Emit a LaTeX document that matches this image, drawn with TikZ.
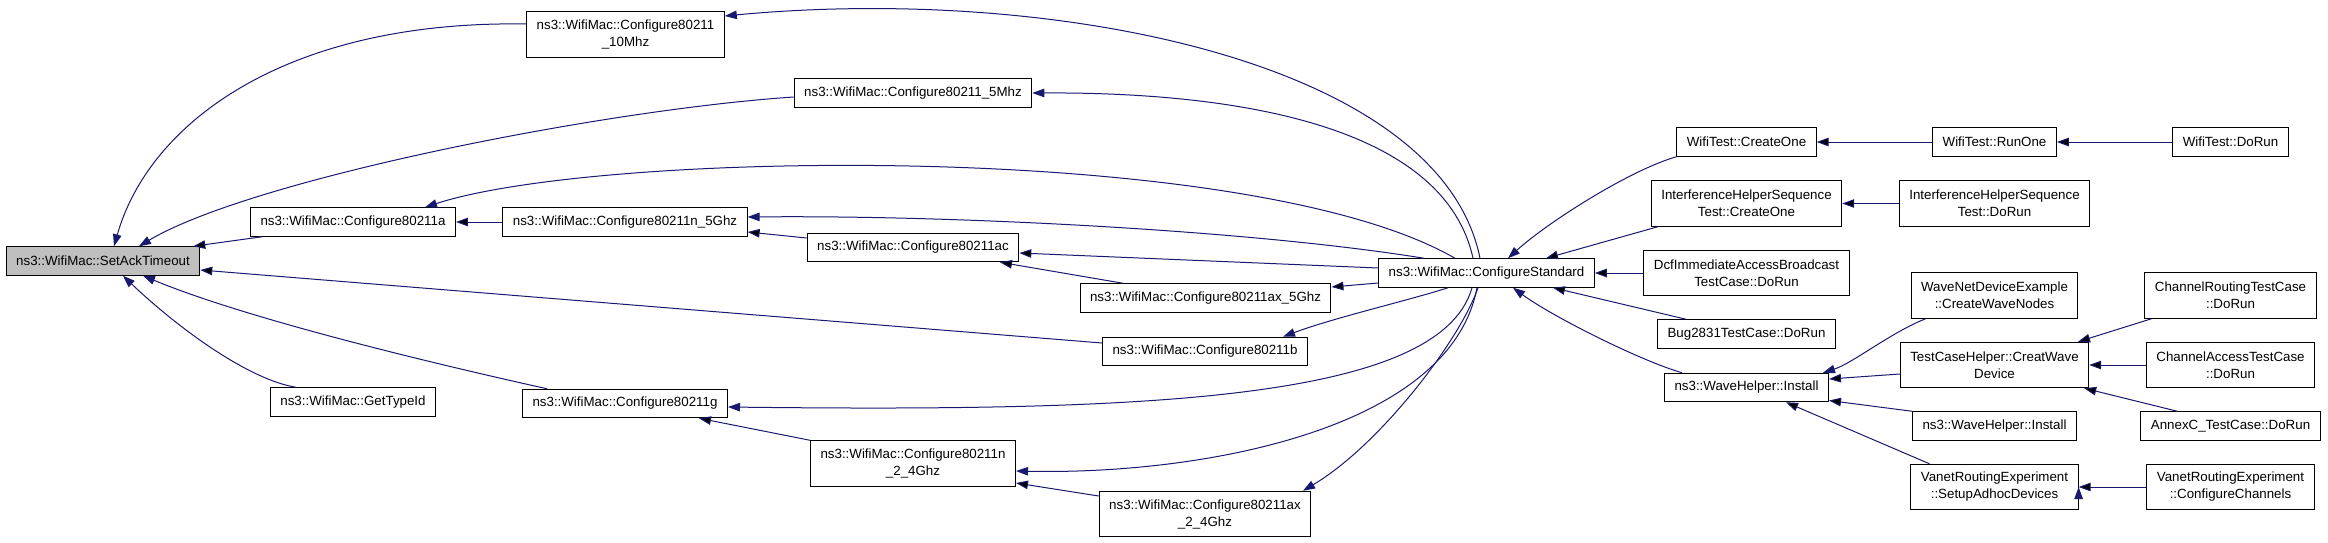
\documentclass[tikz,border=0pt]{standalone}
\usepackage{fontspec}
\setmainfont{Liberation Sans}
\usetikzlibrary{arrows.meta, positioning}

\definecolor{edgeblue}{HTML}{191970}
\definecolor{satgray}{HTML}{BFBFBF}

\begin{document}
\begin{tikzpicture}[x=1pt, y=-1pt,
    fn/.style={draw=black, line width=1pt, fill=white, inner xsep=10pt, inner ysep=0pt,
      minimum height=28.5pt, align=center, font=\fontsize{13.33pt}{17pt}\selectfont},
    fn2/.style={fn, minimum height=45.5pt},
    call/.style={{Triangle[length=12pt, width=8.5pt]}-, draw=edgeblue, line width=1pt}]
  \fill[white] (0,0) rectangle (2328,542);
  \useasboundingbox (0,0) rectangle (2328,542);

  % the function itself
  \node[fn, fill=satgray] (sat) at (103,261) {ns3::WifiMac::SetAckTimeout};

  % direct callers
  \node[fn2] (c10) at (625.5,34.5) {ns3::WifiMac::Configure80211\\\_10Mhz};
  \node[fn] (c5) at (913,93) {ns3::WifiMac::Configure80211\_5Mhz};
  \node[fn] (ca) at (353,222) {ns3::WifiMac::Configure80211a};
  \node[fn] (gti) at (353,402) {ns3::WifiMac::GetTypeId};
  \node[fn] (cn5) at (625,222) {ns3::WifiMac::Configure80211n\_5Ghz};
  \node[fn] (cg) at (625,403.5) {ns3::WifiMac::Configure80211g};
  \node[fn] (cac) at (913,247.5) {ns3::WifiMac::Configure80211ac};
  \node[fn2] (cn24) at (913,463.5) {ns3::WifiMac::Configure80211n\\\_2\_4Ghz};
  \node[fn] (cax5) at (1205.5,298) {ns3::WifiMac::Configure80211ax\_5Ghz};
  \node[fn] (cb) at (1205,351.5) {ns3::WifiMac::Configure80211b};
  \node[fn2] (cax24) at (1205,514) {ns3::WifiMac::Configure80211ax\\\_2\_4Ghz};
  \node[fn] (cstd) at (1486.5,273) {ns3::WifiMac::ConfigureStandard};

  % callers of ConfigureStandard
  \node[fn] (wtc) at (1746.5,142) {WifiTest::CreateOne};
  \node[fn2] (ihc) at (1746.5,203.5) {InterferenceHelperSequence\\Test::CreateOne};
  \node[fn2] (dcf) at (1746.5,273) {DcfImmediateAccessBroadcast\\TestCase::DoRun};
  \node[fn] (bug) at (1746.5,334) {Bug2831TestCase::DoRun};
  \node[fn] (whi) at (1746.5,387.5) {ns3::WaveHelper::Install};

  \node[fn] (wtr) at (1994.5,142) {WifiTest::RunOne};
  \node[fn2] (ihd) at (1994.5,203.5) {InterferenceHelperSequence\\Test::DoRun};
  \node[fn2] (wnd) at (1994.5,295.5) {WaveNetDeviceExample\\::CreateWaveNodes};
  \node[fn2] (tch) at (1994.5,365) {TestCaseHelper::CreatWave\\Device};
  \node[fn] (whi2) at (1994.5,426) {ns3::WaveHelper::Install};
  \node[fn2] (vsa) at (1994.5,487) {VanetRoutingExperiment\\::SetupAdhocDevices};

  \node[fn] (wtd) at (2230.5,142) {WifiTest::DoRun};
  \node[fn2] (crt) at (2230.5,295.5) {ChannelRoutingTestCase\\::DoRun};
  \node[fn2] (cat) at (2230.5,365) {ChannelAccessTestCase\\::DoRun};
  \node[fn] (anx) at (2230.5,426) {AnnexC\_TestCase::DoRun};
  \node[fn2] (vcc) at (2230.5,487) {VanetRoutingExperiment\\::ConfigureChannels};

  % curved calls
  \draw[call] ([xshift=11pt]sat.north) .. controls (150,120) and (290,20) .. ([yshift=10.5pt]c10.west);
  \draw[call] ([xshift=36pt]sat.north) .. controls (250,180) and (600,110) .. ([yshift=-4pt]c5.west);
  \draw[call] ([xshift=40pt]sat.south) .. controls (250,320) and (440,365) .. ([xshift=-78pt]cg.north);
  \draw[call] ([xshift=20pt]sat.south) .. controls (180,330) and (250,380) .. ([xshift=-57pt]gti.north);
  \draw[call] ([yshift=18.5pt]c10.east) .. controls (1050,-15) and (1440,60) .. ([xshift=-6.5pt]cstd.north);
  \draw[call] (c5.east) .. controls (1250,92) and (1445,130) .. ([xshift=-13.5pt]cstd.north);
  \draw[call] ([xshift=72pt]ca.north) .. controls (600,150) and (1250,140) .. ([xshift=-31.5pt]cstd.north);
  \draw[call] ([yshift=5pt]cn5.east) .. controls (950,215) and (1250,230) .. ([xshift=-62.5pt]cstd.north);
  \draw[call] ([xshift=78pt]cb.north) .. controls (1333,318) and (1410,300) .. ([xshift=-38.5pt]cstd.south);
  \draw[call] ([yshift=-3.5pt]cg.east) .. controls (1150,412) and (1440,400) .. ([xshift=-14.5pt]cstd.south);
  \draw[call] ([yshift=-7.5pt]cn24.east) .. controls (1200,475) and (1450,430) .. ([xshift=-9.5pt]cstd.south);
  \draw[call] ([xshift=98pt]cax24.north) .. controls (1380,445) and (1460,340) .. ([xshift=-8.5pt]cstd.south);
  \draw[call] ([xshift=21.5pt]cstd.north) .. controls (1548,222) and (1630,170) .. (wtc.south west);
  \draw[call] ([xshift=26.5pt]cstd.south) .. controls (1553,317) and (1641,361) .. ([xshift=18pt]whi.north west);
  \draw[call] ([xshift=76.5pt]whi.north) .. controls (1853,363) and (1890,333) .. ([xshift=15pt]wnd.south west);

  % straight calls
  \path[call]
    ([xshift=-7pt]sat.north east) edge ([xshift=-91pt]ca.south)
    ([yshift=-9pt]sat.east) edge ([yshift=8.5pt]cb.west)
    (ca.east) edge (cn5.west)
    ([yshift=-10pt]cn5.east) edge ([yshift=9.5pt]cac.west)
    ([yshift=-5.5pt]cac.east) edge ([yshift=5pt]cstd.west)
    ([xshift=87pt]cac.south) edge ([xshift=-82.5pt]cax5.north)
    ([yshift=11pt]cax5.east) edge ([yshift=-10pt]cstd.west)
    ([xshift=74pt]cg.south) edge (cn24.north west)
    ([yshift=-19.5pt]cn24.east) edge ([yshift=18pt]cax24.west)
    ([xshift=59.5pt]cstd.north) edge ([xshift=7pt]ihc.south west)
    (cstd.east) edge (dcf.west)
    ([xshift=66.5pt]cstd.south) edge ([xshift=29pt]bug.north west)
    (wtc.east) edge (wtr.west)
    (wtr.east) edge (wtd.west)
    (ihc.east) edge (ihd.west)
    ([yshift=8.5pt]whi.east) edge ([yshift=-9pt]tch.west)
    ([yshift=-13pt]whi.east) edge (whi2.north west)
    ([xshift=39.5pt]whi.south) edge ([xshift=19pt]vsa.north west)
    ([xshift=83.5pt]tch.north) edge ([xshift=7pt]crt.south west)
    (tch.east) edge (cat.west)
    ([xshift=-5pt]tch.south east) edge ([xshift=37pt]anx.north west)
    (vsa.east) edge (vcc.west);
\end{tikzpicture}
\end{document}
